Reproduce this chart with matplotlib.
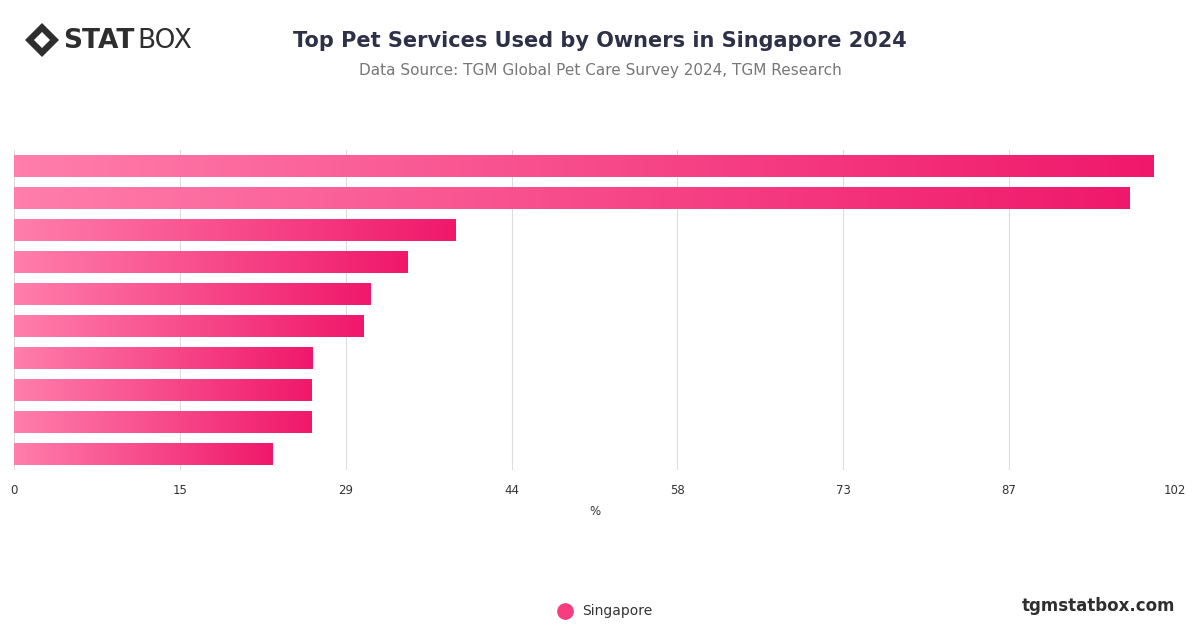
import matplotlib.pyplot as plt
import matplotlib.patches as mpatches
import numpy as np

services = ['Service 1', 'Service 2', 'Service 3', 'Service 4', 'Service 5',
            'Service 6', 'Service 7', 'Service 8', 'Service 9', 'Service 10']
values = [100.1, 98.0, 38.8, 34.6, 31.3, 30.7, 26.2, 26.1, 26.1, 22.7]
ticks = [0, 102 / 7, 2 * 102 / 7, 3 * 102 / 7, 4 * 102 / 7, 5 * 102 / 7, 6 * 102 / 7, 102]
tick_labels = ['0', '15', '29', '44', '58', '73', '87', '102']

fig = plt.figure(figsize=(12, 6.28), dpi=100)
ax = fig.add_axes([0.0117, 0.252, 0.9675, 0.509])

y = np.arange(len(values))
bars = ax.barh(y, values, height=0.68, color='none')
ax.set_xlim(0, 102)

cmap = plt.matplotlib.colors.LinearSegmentedColormap.from_list('pk', ['#ff7eab', '#f0186b'])
grad = np.linspace(0, 1, 256).reshape(1, -1)
for b in bars:
    x0, y0 = b.get_x(), b.get_y()
    w, h = b.get_width(), b.get_height()
    im = ax.imshow(grad, cmap=cmap, aspect='auto', extent=[x0, x0 + w, y0 + h, y0], zorder=2)
    im.set_clip_path(b)
ax.set_ylim(len(values) - 0.5, -0.5)

ax.set_xticks(ticks)
ax.set_xticklabels(tick_labels, fontsize=8.5, color='#333333')
ax.set_yticks([])
ax.tick_params(axis='x', length=0, pad=10)
ax.grid(axis='x', color='#dddddd', linewidth=0.8, zorder=0)
ax.set_axisbelow(True)
for s in ax.spines.values():
    s.set_visible(False)
ax.set_xlabel('%', fontsize=8.5, color='#333333', labelpad=6)

fig.text(0.5, 0.935, 'Top Pet Services Used by Owners in Singapore 2024', ha='center', va='center',
         fontsize=15, fontweight='bold', color='#2e3047')
fig.text(0.5, 0.887, 'Data Source: TGM Global Pet Care Survey 2024, TGM Research', ha='center', va='center',
         fontsize=11, color='#777777')

# logo: diamond drawn in pixel units so it stays square
cx, cy = 42, 628 - 40
outer = mpatches.Polygon([[cx - 17, cy], [cx, cy + 17], [cx + 17, cy], [cx, cy - 17]],
                         transform=None, facecolor='#2e2e2e', edgecolor='none')
inner = mpatches.Polygon([[cx - 8, cy], [cx, cy + 8], [cx + 8, cy], [cx, cy - 8]],
                         transform=None, facecolor='white', edgecolor='none')
fig.patches.extend([outer, inner])
fig.text(0.053, 0.935, 'STAT', ha='left', va='center', fontsize=19, fontweight='bold', color='#2e2e2e')
fig.text(0.1145, 0.935, 'BOX', ha='left', va='center', fontsize=19, color='#2e2e2e')

# legend
fig.lines.append(plt.Line2D([0.471], [0.027], marker='o', markersize=11, color='#f53d80',
                            transform=fig.transFigure))
fig.text(0.485, 0.027, 'Singapore', ha='left', va='center', fontsize=10, color='#333333')
fig.text(0.979, 0.035, 'tgmstatbox.com', ha='right', va='center', fontsize=12, fontweight='bold', color='#2e2e2e')

fig.savefig('out.png', dpi=100)
